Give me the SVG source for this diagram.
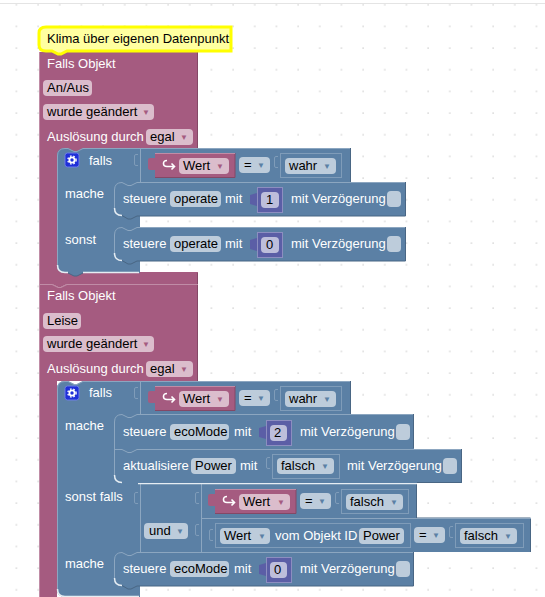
<svg xmlns="http://www.w3.org/2000/svg" width="545" height="597" viewBox="0 0 545 597">
<style>
text{font-family:"Liberation Sans",Arial,sans-serif;font-size:13px}
.w{fill:#fff}.k{fill:#000}
.b{fill:#5b80a5}.p{fill:#a55b80}
.l{fill:none;stroke:#8ca6c0;stroke-width:1}
.d{fill:none;stroke:#496684;stroke-width:1}
.h{fill:none;stroke:#e6edf3;stroke-width:1.5}
.lp{fill:none;stroke:#c08ca6;stroke-width:1}
.dp{fill:none;stroke:#844866;stroke-width:1}
.fb{fill:#bdccdb}.fp{fill:#dbbdcc}.fn{fill:#bdbedb}
.fv{fill:#5b5ea6;stroke:#8c8ec0;stroke-width:1}
.tv{fill:#5b5ea6}
.sh{fill:#5b80a5;stroke:#7f9cb9;stroke-width:1}
.ab{font-size:8px;fill:#5b80a5}.ap{font-size:8px;fill:#a55b80}
.ic{fill:#1f2fd8;stroke:#6f7fe8;stroke-width:1}
.g1{fill:none;stroke:#fff;stroke-width:1.8}
.g2{fill:none;stroke:#fff;stroke-width:1.4;stroke-dasharray:1.6 1.75}
.ar{fill:none;stroke:#fff;stroke-width:1.6}
.bk{fill:none;stroke:#7f9cb9;stroke-width:1}
</style>
<defs>
<pattern id="g" x="-4.4" y="-16.06" width="21.67" height="21.67" patternUnits="userSpaceOnUse"><rect x="20" y="20" width="2" height="2" fill="#e0e0e0"/></pattern>
<path id="br" d="M5 1.500H3Q1.500 1.500 1.500 3V11Q1.500 12.500 3 12.500H5"/>
<path id="ta" d="M7 0L0 2V5L0 11L7 13Z"/>
<g id="arw"><path class="ar" d="M3.500 0Q0 0 0 3Q0 6 3.500 6H11M8 3L11 6L8 9"/></g>
<g id="gear"><rect class="ic" x="0" y="0" width="14" height="14" rx="2.500"/><circle class="g1" cx="7" cy="7" r="2.600"/><circle class="g2" cx="7" cy="7" r="4.100"/></g>
</defs>
<rect width="545" height="597" fill="#fff"/>
<rect width="545" height="597" fill="url(#g)"/>
<rect x="0" y="3" width="545" height="1" fill="#e4e4e4"/>
<g id="connectors"/>
<g id="obj1">
<path class="p" d="M39 52H198V149H140V272H198V284H67L61 287H58L52 284H39Z"/>
<path class="lp" d="M39.500 52V284"/>
<path class="dp" d="M197.500 52V149M197.500 273V284"/>
<text class="w" x="47" y="68">Falls Objekt</text>
<rect class="fp" x="43" y="80" width="49" height="16" rx="4"/><text class="k" x="47" y="92">An/Aus</text>
<rect class="fp" x="43" y="104" width="111" height="16" rx="4"/><text class="k" x="47" y="116">wurde geändert</text><text class="ap" x="142" y="115">▼</text>
<text class="w" x="47" y="141">Auslösung durch</text>
<rect class="fp" x="146" y="129" width="47" height="16" rx="4"/><text class="k" x="150" y="141">egal</text><text class="ap" x="180" y="140">▼</text>
</g>
<g id="obj2">
<path class="p" d="M39 284H52L58 287H61L67 284H198V381H57V597H39Z"/>
<path class="lp" d="M39.500 284V597M39 284.500H52L58 287.500H61L67 284.500H198"/>
<path class="dp" d="M197.500 285V381"/>
<text class="w" x="47" y="300">Falls Objekt</text>
<rect class="fp" x="43" y="313" width="38" height="16" rx="4"/><text class="k" x="47" y="325">Leise</text>
<rect class="fp" x="43" y="336" width="111" height="16" rx="4"/><text class="k" x="47" y="348">wurde geändert</text><text class="ap" x="142" y="347">▼</text>
<text class="w" x="47" y="373">Auslösung durch</text>
<rect class="fp" x="146" y="361" width="47" height="16" rx="4"/><text class="k" x="150" y="373">egal</text><text class="ap" x="180" y="372">▼</text>
</g>
<g id="klima">
<path d="M46 27H231V51H67L61 54H58L52 51H46Q39 51 39 45V33Q39 27 46 27Z" fill="#ffffa0" stroke="#ffff00" stroke-width="3"/>
<text class="k" x="47" y="43">Klima über eigenen Datenpunkt</text>
</g>
<g id="if1">
<path class="b" d="M65 148H68L74 151H77L83 148H351V182H140V273H83L77 276H74L68 273H65Q57 273 57 265V156Q57 148 65 148Z"/>
<path class="l" d="M57.500 265V156Q57.500 148.500 65 148.500H68L74 151.500H77L83 148.500H350M140.500 149V182"/>
<path class="d" d="M350.500 148V182"/>
<path class="h" d="M57.500 265Q57.500 272.500 65 272.500H68M83 272.500H139"/>
<path class="d" d="M68 273L74 276H77L83 273"/>
<use href="#gear" x="65" y="153"/>
<text class="w" x="89" y="165">falls</text><text class="w" x="65" y="198">mache</text><text class="w" x="65" y="244">sonst</text>
<use class="bk" href="#br" x="133" y="153"/>
</g>
<g id="wert1">
<path class="p" d="M155 153H235V178H155V170H150Q148 170 148 168V160Q148 158 150 158H155Z"/>
<path class="dp" d="M155 177.500H235V153"/>
<path class="lp" d="M155 153.500H235"/>
<rect class="fp" x="179" y="158" width="50" height="16" rx="4"/>
<use href="#arw" x="163.500" y="160.500"/>
<text class="k" x="183" y="170">Wert</text><text class="ap" x="216" y="169">▼</text>
</g>
<g id="cmp1">
<rect class="fb" x="239" y="157" width="31" height="16" rx="4"/><text class="k" x="244" y="169">=</text><text class="ab" x="257" y="168">▼</text>
<use class="bk" href="#br" x="273" y="155"/>
<rect class="sh" x="280.500" y="153.500" width="61" height="24"/>
<rect class="fb" x="285" y="158" width="51" height="16" rx="4"/><text class="k" x="289" y="170">wahr</text><text class="ab" x="323" y="169">▼</text>
</g>
<g id="s1">
<path class="b" d="M122 182L128 185H131L137 182H406V216H137L131 219H128L122 216Q114 216 114 208V190Q114 182 122 182Z"/>
<path class="l" d="M114.500 208V190Q114.500 182.500 122 182.500L128 185.500H131L137 182.500H405"/>
<path class="d" d="M405.500 182V216H137L131 219H128L122 215.500"/>
<path class="h" d="M114.500 208Q114.500 215.500 122 215.500"/>
<text class="w" x="123" y="203">steuere</text><rect class="fb" x="170" y="191" width="51" height="16" rx="4"/><text class="k" x="174" y="203">operate</text><text class="w" x="225" y="203">mit</text>
<use class="tv" href="#ta" x="250" y="193"/>
<rect class="fv" x="257.500" y="187.500" width="25" height="25"/><rect class="fn" x="261" y="192" width="18" height="16" rx="4"/><text class="k" x="266" y="204">1</text>
<text class="w" x="291" y="203">mit Verzögerung</text><rect class="fb" x="387" y="191" width="14" height="16" rx="4"/>
</g>
<g id="s2">
<path class="b" d="M122 227L128 230H131L137 227H406V261H137L131 264H128L122 261Q114 261 114 253V235Q114 227 122 227Z"/>
<path class="l" d="M114.500 253V235Q114.500 227.500 122 227.500L128 230.500H131L137 227.500H405"/>
<path class="d" d="M405.500 227V261H137L131 264H128L122 260.500"/>
<path class="h" d="M114.500 253Q114.500 260.500 122 260.500"/>
<text class="w" x="123" y="248">steuere</text><rect class="fb" x="170" y="236" width="51" height="16" rx="4"/><text class="k" x="174" y="248">operate</text><text class="w" x="225" y="248">mit</text>
<use class="tv" href="#ta" x="250" y="238"/>
<rect class="fv" x="257.500" y="232.500" width="25" height="25"/><rect class="fn" x="261" y="237" width="18" height="16" rx="4"/><text class="k" x="266" y="249">0</text>
<text class="w" x="291" y="248">mit Verzögerung</text><rect class="fb" x="387" y="236" width="14" height="16" rx="4"/>
</g>
<g id="if2">
<path class="b" d="M65 381H68L74 384H77L83 381H351V414H140V597H65Q57 597 57 589V389Q57 381 65 381Z"/>
<path class="l" d="M57.500 589V389Q57.500 381.500 65 381.500H68L74 384.500H77L83 381.500H350M140.500 382V414"/>
<path class="d" d="M350.500 381V414"/>
<path class="h" d="M57.500 589Q57.500 596.500 65 596.500H139"/>
<use href="#gear" x="65" y="386"/>
<text class="w" x="89" y="397">falls</text><text class="w" x="65" y="430">mache</text><text class="w" x="65" y="501">sonst falls</text><text class="w" x="65" y="568">mache</text>
<use class="bk" href="#br" x="133" y="386"/>
</g>
<g id="wert2">
<path class="p" d="M155 386H235V411H155V403H150Q148 403 148 401V393Q148 391 150 391H155Z"/>
<path class="dp" d="M155 410.500H235V386"/>
<path class="lp" d="M155 386.500H235"/>
<rect class="fp" x="179" y="391" width="50" height="16" rx="4"/>
<use href="#arw" x="163.500" y="393.500"/>
<text class="k" x="183" y="403">Wert</text><text class="ap" x="216" y="402">▼</text>
</g>
<g id="cmp2">
<rect class="fb" x="239" y="390" width="31" height="16" rx="4"/><text class="k" x="244" y="402">=</text><text class="ab" x="257" y="401">▼</text>
<use class="bk" href="#br" x="273" y="388"/>
<rect class="sh" x="280.500" y="386.500" width="61" height="24"/>
<rect class="fb" x="285" y="391" width="51" height="16" rx="4"/><text class="k" x="289" y="403">wahr</text><text class="ab" x="323" y="402">▼</text>
</g>
<g id="und">
<path class="b" d="M140 484H417V518H531V552H140Z"/>
<path class="d" d="M416.500 484V518H530.500V552"/>
<path class="l" d="M140.500 484V552M201.500 484V552M201 518.500H531"/>
<path class="h" d="M138 483.500H417"/>
<use class="bk" href="#br" x="133" y="491"/>
<use class="bk" href="#br" x="194" y="491"/>
<use class="bk" href="#br" x="194" y="523"/>
<rect class="fb" x="144" y="523" width="44" height="16" rx="4"/><text class="k" x="149" y="535">und</text><text class="ab" x="176" y="534">▼</text>
</g>
<g id="wert3">
<path class="p" d="M215 489H296V514H215V506H210Q208 506 208 504V496Q208 494 210 494H215Z"/>
<path class="dp" d="M215 513.500H296V489"/>
<path class="lp" d="M215 489.500H296"/>
<rect class="fp" x="239" y="494" width="51" height="16" rx="4"/>
<use href="#arw" x="223.500" y="496.500"/>
<text class="k" x="243" y="506">Wert</text><text class="ap" x="277" y="505">▼</text>
<rect class="fb" x="300" y="493" width="31" height="16" rx="4"/><text class="k" x="305" y="505">=</text><text class="ab" x="318" y="504">▼</text>
<use class="bk" href="#br" x="334" y="491"/>
<rect class="sh" x="341.500" y="489.500" width="67" height="24"/>
<rect class="fb" x="346" y="494" width="57" height="16" rx="4"/><text class="k" x="350" y="506">falsch</text><text class="ab" x="390" y="505">▼</text>
</g>
<g id="wert4">
<use class="bk" href="#br" x="208" y="528"/>
<rect class="sh" x="215.500" y="523.500" width="195" height="24"/>
<rect class="fb" x="220" y="528" width="50" height="16" rx="4"/><text class="k" x="224" y="540">Wert</text><text class="ab" x="258" y="539">▼</text>
<text class="w" x="275" y="540">vom Objekt ID</text>
<rect class="fb" x="359" y="528" width="45" height="16" rx="4"/><text class="k" x="363" y="540">Power</text>
<rect class="fb" x="414" y="527" width="31" height="16" rx="4"/><text class="k" x="419" y="539">=</text><text class="ab" x="432" y="538">▼</text>
<use class="bk" href="#br" x="448" y="525"/>
<rect class="sh" x="455.500" y="523.500" width="68" height="24"/>
<rect class="fb" x="460" y="528" width="57" height="16" rx="4"/><text class="k" x="464" y="540">falsch</text><text class="ab" x="504" y="539">▼</text>
</g>
<g id="s3">
<path class="b" d="M122 414L128 417H131L137 414H414V449H137L131 452H128L122 449H114V422Q114 414 122 414Z"/>
<path class="l" d="M114.500 449V422Q114.500 414.500 122 414.500L128 417.500H131L137 414.500H413"/>
<path class="d" d="M413.500 414V448"/>
<text class="w" x="123" y="436">steuere</text><rect class="fb" x="170" y="424" width="59" height="16" rx="4"/><text class="k" x="174" y="436">ecoMode</text><text class="w" x="234" y="436">mit</text>
<use class="tv" href="#ta" x="259" y="426"/>
<rect class="fv" x="266.500" y="420.500" width="25" height="25"/><rect class="fn" x="270" y="425" width="17" height="16" rx="4"/><text class="k" x="274" y="437">2</text>
<text class="w" x="300" y="436">mit Verzögerung</text><rect class="fb" x="396" y="424" width="14" height="16" rx="4"/>
</g>
<g id="s4">
<path class="b" d="M114 449H122L128 452H131L137 449H462V483H137L131 486H128L122 483Q114 483 114 475Z"/>
<path class="l" d="M114 449.500H122L128 452.500H131L137 449.500H461M114.500 449V475"/>
<path class="d" d="M461.500 449V482.500H417"/>
<path class="h" d="M114.500 475Q114.500 482.500 122 482.500"/>
<text class="w" x="123" y="470">aktualisiere</text><rect class="fb" x="191" y="458" width="45" height="16" rx="4"/><text class="k" x="195" y="470">Power</text><text class="w" x="240" y="470">mit</text>
<use class="bk" href="#br" x="265" y="456"/>
<rect class="sh" x="272.500" y="454.500" width="67" height="24"/>
<rect class="fb" x="277" y="458" width="57" height="16" rx="4"/><text class="k" x="281" y="470">falsch</text><text class="ab" x="321" y="469">▼</text>
<text class="w" x="347" y="470">mit Verzögerung</text><rect class="fb" x="443" y="458" width="14" height="16" rx="4"/>
</g>
<g id="s5">
<path class="b" d="M122 552L128 555H131L137 552H414V586H137L131 589H128L122 586Q114 586 114 578V560Q114 552 122 552Z"/>
<path class="l" d="M114.500 578V560Q114.500 552.500 122 552.500L128 555.500H131L137 552.500H413"/>
<path class="d" d="M413.500 552V586H137L131 589H128L122 585.500"/>
<path class="h" d="M114.500 578Q114.500 585.500 122 585.500"/>
<text class="w" x="123" y="573">steuere</text><rect class="fb" x="170" y="561" width="59" height="16" rx="4"/><text class="k" x="174" y="573">ecoMode</text><text class="w" x="234" y="573">mit</text>
<use class="tv" href="#ta" x="259" y="563"/>
<rect class="fv" x="266.500" y="557.500" width="25" height="25"/><rect class="fn" x="270" y="562" width="17" height="16" rx="4"/><text class="k" x="274" y="574">0</text>
<text class="w" x="300" y="573">mit Verzögerung</text><rect class="fb" x="396" y="561" width="14" height="16" rx="4"/>
</g>
</svg>
